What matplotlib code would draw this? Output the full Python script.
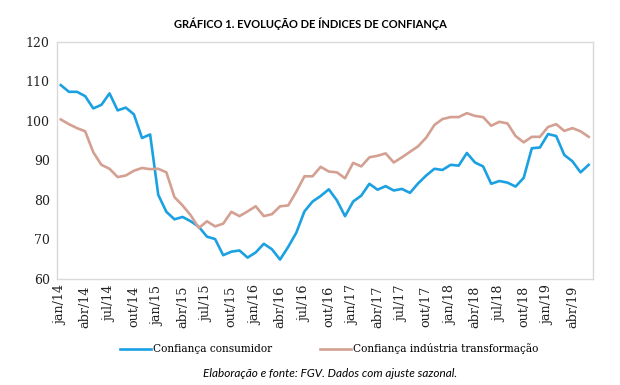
import matplotlib
matplotlib.use("Agg")
import matplotlib.pyplot as plt

# Dados mensais jan/14 a jun/19 (FGV, com ajuste sazonal)
meses = ["jan", "fev", "mar", "abr", "mai", "jun", "jul", "ago", "set", "out", "nov", "dez"]
anos = ["14", "15", "16", "17", "18", "19"]
rotulos = [m + "/" + a for a in anos for m in meses][:66]

consumidor = [109.0, 107.3, 107.3, 106.2, 103.1, 104.0, 106.9, 102.6, 103.3, 101.6, 95.6, 96.5,
              81.2, 76.9, 75.0, 75.6, 74.5, 73.1, 70.6, 70.0, 65.9, 66.8, 67.1, 65.3,
              66.6, 68.8, 67.4, 64.8, 68.0, 71.6, 77.0, 79.5, 80.9, 82.6, 79.8, 75.8,
              79.5, 81.0, 84.0, 82.5, 83.4, 82.3, 82.7, 81.7, 84.1, 86.1, 87.8, 87.5,
              88.8, 88.6, 91.8, 89.4, 88.4, 84.0, 84.7, 84.3, 83.3, 85.5, 93.0, 93.2,
              96.6, 96.1, 91.3, 89.7, 86.9, 88.8]

industria = [100.3, 99.1, 98.1, 97.3, 92.0, 88.8, 87.8, 85.7, 86.1, 87.3, 88.0, 87.7,
             87.8, 86.9, 80.6, 78.5, 76.0, 72.8, 74.5, 73.2, 73.9, 76.9, 75.8, 77.0,
             78.3, 75.8, 76.3, 78.3, 78.5, 82.0, 85.9, 85.9, 88.3, 87.1, 86.9, 85.4,
             89.3, 88.4, 90.7, 91.1, 91.7, 89.4, 90.7, 92.1, 93.5, 95.7, 98.9, 100.4,
             100.9, 100.9, 101.9, 101.2, 100.9, 98.7, 99.7, 99.3, 96.1, 94.5, 95.9, 95.9,
             98.4, 99.1, 97.4, 98.1, 97.3, 95.9]

azul = "#1BA1E2"
marrom = "#D3A092"

fig = plt.figure(figsize=(6.2, 3.85), dpi=100)
ax = fig.add_axes([0.0915, 0.2766, 0.8645, 0.6151])

x = list(range(len(consumidor)))
ax.plot(x, consumidor, color=azul, lw=1.9, label="Confiança consumidor")
ax.plot(x, industria, color=marrom, lw=1.9, label="Confiança indústria transformação")

ax.set_xlim(-0.5, len(x) - 0.5)
ax.set_ylim(60, 120)
ax.set_yticks(range(60, 121, 10))
ax.set_xticks(x[::3])
ax.set_xticklabels(rotulos[::3], rotation=90, family="DejaVu Serif", fontsize=9.2, color="#222222")
for t in ax.get_yticklabels():
    t.set_family("DejaVu Serif")
    t.set_fontsize(9)
    t.set_color("#222222")
ax.tick_params(length=0, pad=5)
for s in ax.spines.values():
    s.set_color("#d9d9d9")
    s.set_linewidth(1.0)

fig.text(0.5, 0.938, "GRÁFICO 1. EVOLUÇÃO DE ÍNDICES DE CONFIANÇA",
         ha="center", va="center", fontsize=8, fontweight="bold", family="Lato")

fig.legend(loc="center", bbox_to_anchor=(0.531, 0.094), ncol=2, frameon=False,
           prop={"family": "DejaVu Serif", "size": 7.6}, handlelength=2.9,
           handletextpad=0.2, columnspacing=4.6)

fig.text(0.532, 0.029, "Elaboração e fonte: FGV. Dados com ajuste sazonal.",
         ha="center", va="center", fontsize=8.5, style="italic", family="Lato")

fig.savefig("out.png", dpi=100)
